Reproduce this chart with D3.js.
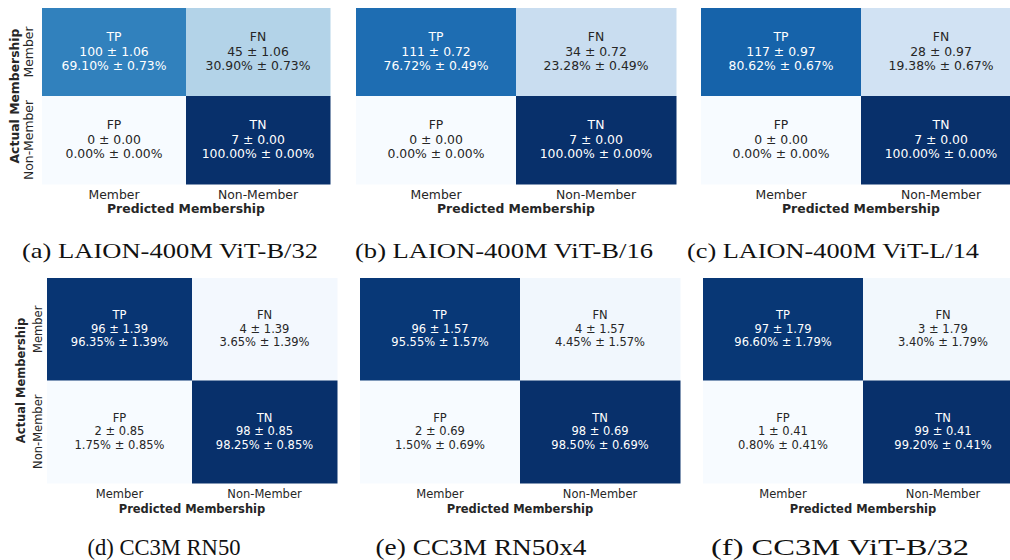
<!DOCTYPE html>
<html><head><meta charset="utf-8">
<script src="https://cdn.jsdelivr.net/npm/d3@7"></script>
<style>body{margin:0;background:#fff}svg{display:block}</style>
</head><body>
<svg id="chart" width="1010" height="560"></svg>
<script>
// ---------- data ----------
const captions = ["(a) LAION-400M ViT-B/32", "(b) LAION-400M ViT-B/16", "(c) LAION-400M ViT-L/14",
                  "(d) CC3M RN50", "(e) CC3M RN50x4", "(f) CC3M ViT-B/32"];
const predictedLabels = ["Member", "Non-Member"];
const actualLabels = ["Member", "Non-Member"];
const cellNames = ["TP", "FN", "FP", "TN"];
const counts = [[100, 45, 0, 7], [111, 34, 0, 7], [117, 28, 0, 7], [96, 4, 2, 98], [96, 4, 2, 98], [97, 3, 1, 99]];
const countStd = [[1.06, 1.06, 0.00, 0.00], [0.72, 0.72, 0.00, 0.00], [0.97, 0.97, 0.00, 0.00],
                  [1.39, 1.39, 0.85, 0.85], [1.57, 1.57, 0.69, 0.69], [1.79, 1.79, 0.41, 0.41]];
const percents = [[69.10, 30.90, 0.00, 100.00], [76.72, 23.28, 0.00, 100.00], [80.62, 19.38, 0.00, 100.00],
                  [96.35, 3.65, 1.75, 98.25], [95.55, 4.45, 1.50, 98.50], [96.60, 3.40, 0.80, 99.20]];
const percentStd = [[0.73, 0.73, 0.00, 0.00], [0.49, 0.49, 0.00, 0.00], [0.67, 0.67, 0.00, 0.00],
                    [1.39, 1.39, 0.85, 0.85], [1.57, 1.57, 0.69, 0.69], [1.79, 1.79, 0.41, 0.41]];
const bluesStops = ["#f7fbff", "#deebf7", "#c6dbef", "#9ecae1", "#6baed6", "#4292c6", "#2171b5", "#08519c", "#08306b"];

// ---------- layout ----------
const layout = [
  {x: 42, y: 8, w: 288, h: 176, fs: 12.4, yAxis: true, xPad: 6.2, yPad: 8.7, titleX: 18.5, xTitleBase: 213.3, capX: 170, capW: 296, capY: 258, capFs: 21},
  {x: 356, y: 8, w: 320, h: 176, fs: 12.4, yAxis: false, xPad: 6.2, xTitleBase: 213.3, capX: 504, capW: 298, capY: 258, capFs: 21},
  {x: 701, y: 8, w: 320, h: 176, fs: 12.4, yAxis: false, xPad: 6.2, xTitleBase: 213.3, capX: 833, capW: 292, capY: 258, capFs: 21},
  {x: 47, y: 278, w: 290, h: 205, fs: 11.5, yAxis: true, xPad: 7.1, yPad: 5.3, titleX: 24.5, xTitleBase: 512.7, capX: 164, capW: 153, capY: 555, capFs: 23},
  {x: 360, y: 278, w: 320, h: 205, fs: 11.5, yAxis: false, xPad: 7.1, xTitleBase: 512.7, capX: 481, capW: 211, capY: 555, capFs: 23},
  {x: 703, y: 278, w: 320, h: 205, fs: 11.5, yAxis: false, xPad: 7.1, xTitleBase: 512.7, capX: 840, capW: 258, capY: 555, capFs: 23}
];

const svg = d3.select("#chart");
const textDark = "#262626";
const FONT = "DejaVu Sans";

function luminance(c) {
  const rgb = d3.rgb(c);
  const f = v => { v /= 255; return v <= 0.03928 ? v / 12.92 : Math.pow((v + 0.055) / 1.055, 2.4); };
  return 0.2126 * f(rgb.r) + 0.7152 * f(rgb.g) + 0.0722 * f(rgb.b);
}

layout.forEach((L, p) => {
  const g = svg.append("g");
  const vals = percents[p];
  const vmin = d3.min(vals), vmax = d3.max(vals);
  const color = d3.scaleLinear()
    .domain(d3.range(bluesStops.length).map(i => vmin + (vmax - vmin) * i / (bluesStops.length - 1)))
    .range(bluesStops).interpolate(d3.interpolateRgb).clamp(true);

  const xs = d3.scaleBand().domain(predictedLabels).range([L.x, L.x + L.w]);
  const ys = d3.scaleBand().domain(actualLabels).range([L.y, L.y + L.h]);

  const cells = cellNames.map((name, i) => ({
    name, i,
    pred: predictedLabels[i % 2], act: actualLabels[Math.floor(i / 2)],
    count: counts[p][i], cstd: countStd[p][i], pct: percents[p][i], pstd: percentStd[p][i]
  }));

  g.selectAll("rect.cell").data(cells).join("rect")
    .attr("class", "cell")
    .attr("x", d => xs(d.pred)).attr("y", d => ys(d.act))
    .attr("width", xs.bandwidth() + 0.5).attr("height", ys.bandwidth() + 0.5)
    .attr("fill", d => color(d.pct));

  const lh = L.fs * 1.165;
  cells.forEach(d => {
    const cx = xs(d.pred) + xs.bandwidth() / 2;
    const cy = ys(d.act) + ys.bandwidth() / 2 - 0.8;
    const fill = luminance(color(d.pct)) > 0.408 ? textDark : "#ffffff";
    const lines = [d.name, `${d.count} ± ${d.cstd.toFixed(2)}`, `${d.pct.toFixed(2)}% ± ${d.pstd.toFixed(2)}%`];
    g.append("g").selectAll("text").data(lines).join("text")
      .attr("x", cx).attr("y", (t, k) => cy + (k - 1) * lh + 0.365 * L.fs)
      .attr("text-anchor", "middle").attr("font-family", FONT).attr("font-size", L.fs)
      .attr("fill", fill).text(t => t);
  });

  // x axis
  const xa = g.append("g").attr("transform", `translate(0,${L.y + L.h})`)
    .call(d3.axisBottom(xs).tickSize(0).tickPadding(L.xPad));
  xa.select(".domain").remove();
  xa.selectAll("text").attr("font-family", FONT).attr("font-size", L.fs).attr("fill", textDark);

  g.append("text").attr("x", L.x + L.w / 2).attr("y", L.xTitleBase)
    .attr("text-anchor", "middle").attr("font-family", FONT).attr("font-weight", "bold")
    .attr("font-size", L.fs).attr("fill", textDark).text("Predicted Membership");

  if (L.yAxis) {
    const ya = g.append("g").attr("transform", `translate(${L.x},0)`)
      .call(d3.axisLeft(ys).tickSize(0));
    ya.select(".domain").remove();
    ya.selectAll("text")
      .attr("x", 0).attr("y", -L.yPad).attr("dy", 0)
      .attr("text-anchor", "middle").attr("transform", "rotate(-90)")
      .attr("font-family", FONT).attr("font-size", L.fs).attr("fill", textDark);
    g.append("text")
      .attr("transform", `translate(${L.titleX},${L.y + L.h / 2}) rotate(-90)`)
      .attr("text-anchor", "middle").attr("font-family", FONT).attr("font-weight", "bold")
      .attr("font-size", L.fs).attr("fill", textDark).text("Actual Membership");
  }

  // caption
  g.append("text").attr("x", L.capX - L.capW / 2).attr("y", L.capY)
    .attr("font-family", "Liberation Serif").attr("font-size", L.capFs).attr("fill", "#111")
    .attr("textLength", L.capW).attr("lengthAdjust", "spacingAndGlyphs")
    .text(captions[p]);
});
</script>
</body></html>
